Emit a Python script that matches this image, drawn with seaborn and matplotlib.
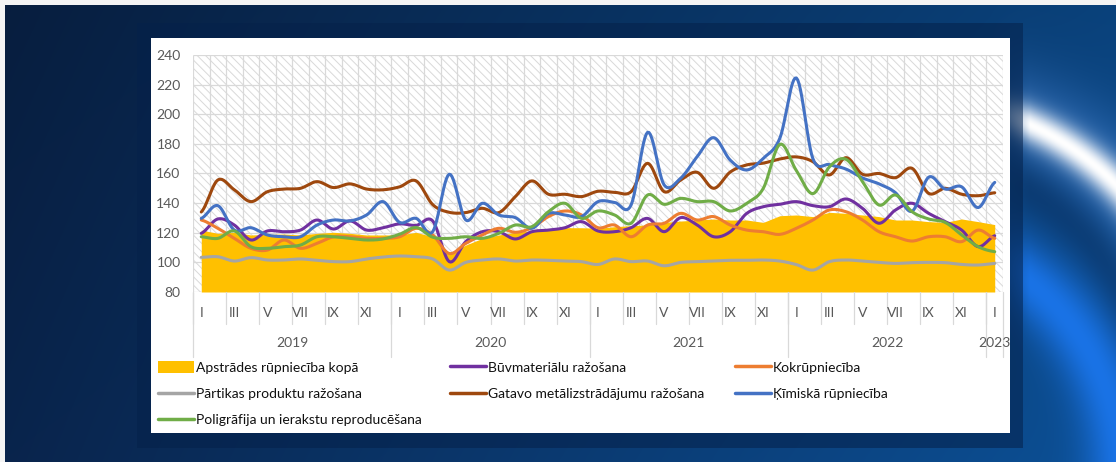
import numpy as np
import pandas as pd
import matplotlib
matplotlib.use("Agg")
import matplotlib.pyplot as plt
import seaborn as sns
from matplotlib.patches import Rectangle, Patch
from matplotlib.lines import Line2D

# ─── Data (monthly indices, Jan 2019 .. Jan 2023) ──────────────────────────────
YEARS = ["2019", "2020", "2021", "2022", "2023"]
MONTH_LABELS = ["I", "III", "V", "VII", "IX", "XI"]

total = [121.8, 119.6, 120.3, 118.5, 118.9, 119.1, 118.5, 119.6, 120.3, 119.6, 118.5, 118.5,
         118.5, 120.3, 117.3, 106.1, 111.7, 116.2, 118.5, 120.3, 121.2, 121.8, 123.4, 123.4,
         123.0, 124.1, 124.8, 125.2, 127.0, 127.9, 128.6, 129.3, 128.6, 128.6, 127.0, 131.5,
         132.0, 130.9, 133.8, 133.1, 132.0, 130.9, 128.6, 128.6, 127.5, 127.0, 129.3, 127.5,
         125.5]
buvmat = [119.6, 129.3, 125.2, 115.1, 121.2, 120.7, 121.8, 128.6, 122.5, 128.0, 121.8, 123.4,
          126.0, 125.0, 128.0, 100.5, 114.0, 120.7, 120.7, 115.8, 120.7, 121.8, 123.4, 127.5,
          121.2, 120.7, 123.4, 129.7, 120.7, 130.2, 125.2, 117.3, 120.7, 133.1, 137.6, 139.2,
          141.0, 138.3, 137.6, 142.8, 136.5, 126.4, 135.4, 139.9, 133.1, 127.5, 121.8, 110.6,
          118.0]
kokr = [128.6, 123.0, 116.2, 109.5, 108.3, 115.1, 109.5, 112.8, 117.3, 117.3, 116.2, 116.2,
        117.3, 123.0, 118.5, 106.0, 112.8, 118.5, 123.0, 120.3, 123.4, 130.9, 134.7, 132.0,
        123.4, 125.2, 117.3, 125.2, 126.4, 133.1, 128.6, 130.9, 125.2, 121.8, 120.7, 118.9,
        123.0, 128.6, 135.4, 134.2, 128.6, 120.7, 117.3, 114.4, 117.3, 117.3, 114.0, 121.8,
        116.2]
partika = [103.4, 103.8, 100.9, 103.2, 101.6, 101.6, 102.3, 101.4, 100.5, 100.5, 102.3, 103.6,
           104.3, 103.8, 102.3, 94.8, 100.0, 101.6, 102.3, 100.9, 101.6, 101.4, 100.9, 100.5,
           98.6, 102.3, 100.5, 100.9, 97.7, 100.0, 100.5, 100.9, 101.4, 101.4, 101.6, 100.9,
           98.5, 94.8, 100.5, 101.6, 100.9, 100.0, 99.3, 99.8, 100.0, 99.8, 98.6, 98.2,
           99.3]
metal = [134.0, 155.6, 149.0, 141.0, 147.7, 149.5, 150.0, 154.5, 150.5, 153.0, 149.5, 149.0,
         151.0, 155.0, 139.0, 133.8, 133.6, 136.5, 133.6, 144.4, 155.0, 146.0, 146.0, 144.4,
         148.0, 147.3, 147.7, 166.9, 147.7, 155.6, 160.8, 150.0, 161.0, 165.8, 167.0, 169.8,
         171.2, 168.0, 159.0, 170.7, 159.5, 160.0, 157.2, 163.5, 146.6, 150.0, 146.0, 145.0,
         147.0]
kimija = [129.7, 138.3, 121.8, 123.4, 118.5, 117.3, 117.3, 125.2, 128.6, 128.0, 132.0, 141.0,
          127.0, 129.7, 120.7, 159.5, 128.6, 139.9, 132.0, 130.2, 123.0, 133.0, 132.0, 130.9,
          141.0, 140.5, 138.7, 187.8, 152.3, 156.8, 171.4, 184.2, 169.0, 162.4, 170.3, 183.8,
          224.5, 170.0, 166.0, 163.0, 157.0, 153.0, 147.0, 134.5, 157.5, 149.5, 151.0, 137.0,
          154.0]
poligr = [117.3, 116.2, 121.2, 110.6, 109.5, 110.6, 111.7, 117.3, 117.3, 116.2, 115.1, 115.8,
          119.0, 123.5, 117.0, 116.2, 117.3, 116.2, 119.6, 125.2, 124.1, 134.2, 139.9, 129.7,
          134.7, 132.0, 126.4, 145.5, 139.2, 143.2, 141.0, 141.0, 134.7, 139.9, 150.0, 179.7,
          162.0, 146.4, 164.5, 169.6, 154.5, 138.7, 145.5, 134.2, 129.3, 127.0, 118.5, 110.6,
          107.2]

SERIES = {
    "Būvmateriālu ražošana": (buvmat, "#7030A0"),
    "Kokrūpniecība": (kokr, "#ED7D31"),
    "Pārtikas produktu ražošana": (partika, "#A5A5A5"),
    "Gatavo metālizstrādājumu ražošana": (metal, "#9E480E"),
    "Ķīmiskā rūpniecība": (kimija, "#4472C4"),
    "Poligrāfija un ierakstu reproducēšana": (poligr, "#70AD47"),
}
TOTAL_NAME = "Apstrādes rūpniecība kopā"
TOTAL_COLOR = "#FFC000"

TEXT = "#595959"
GRID = "#d9d9d9"
W, H = 1116, 462


def smooth(values, n=12):
    """Excel-style smoothed line: cubic Bezier through the monthly points."""
    y = np.asarray(values, float)
    yp = np.concatenate([[y[0]], y, [y[-1]]])
    t = np.linspace(0, 1, n, endpoint=False)
    xs, ys = [], []
    for i in range(len(y) - 1):
        p0, p3 = y[i], y[i + 1]
        p1 = p0 + (yp[i + 2] - yp[i]) / 6
        p2 = p3 - (yp[i + 3] - yp[i + 1]) / 6
        ys.append((1 - t) ** 3 * p0 + 3 * (1 - t) ** 2 * t * p1 + 3 * (1 - t) * t ** 2 * p2 + t ** 3 * p3)
        xs.append(i + t)
    xs.append([len(y) - 1])
    ys.append([y[-1]])
    return np.concatenate(xs), np.concatenate(ys)


def background():
    yy, xx = np.mgrid[0:H, 0:W].astype(float)
    t = xx / W
    c0 = np.array([9, 36, 76]) / 255
    c1 = np.array([12, 80, 150]) / 255
    img = c0 * (1 - t)[..., None] + c1 * t[..., None]
    img *= (0.82 + 0.18 * yy / H)[..., None]
    right = np.clip((xx - 990) / 40, 0, 1)
    # bright white swoosh on the right
    r1 = np.hypot(xx - 905, yy - 395)
    glow = np.exp(-((r1 - 298) / 50) ** 2) * 0.4 * right
    core = np.exp(-((r1 - 298) / 17) ** 2) * right
    dark = np.exp(-((r1 - 240) / 25) ** 2) * 0.5 * right
    img = img + (np.array([0.35, 0.6, 0.95]) - img) * glow[..., None]
    img = img + (1 - img) * core[..., None]
    img = img + (np.array([0.02, 0.17, 0.36]) - img) * dark[..., None]
    # lower light-blue band
    r2 = np.hypot(xx - 880, yy - 470)
    band = np.exp(-((r2 - 240) / 34) ** 2) * right
    img = img + (np.array([0.1, 0.45, 0.9]) - img) * band[..., None]
    img = np.clip(img, 0, 1)
    img[:5, :] = 0.96
    img[:, :5] = 0.96
    return img


sns.set_theme(style="white")
plt.rcParams["font.family"] = ["Lato", "DejaVu Sans"]
plt.rcParams["hatch.linewidth"] = 0.7

fig = plt.figure(figsize=(W / 100, H / 100), dpi=100)

bg = fig.add_axes([0, 0, 1, 1], zorder=-10)
bg.imshow(background(), aspect="auto", extent=(0, W, H, 0))
bg.set_xlim(0, W)
bg.set_ylim(H, 0)
bg.axis("off")
bg.add_patch(Rectangle((137, 23), 886, 425, facecolor="#05214a", alpha=0.55, lw=0))
bg.add_patch(Rectangle((151, 38), 859, 395, facecolor="white", lw=0))

# ─── Chart ────────────────────────────────────────────────────────────────────
ax = fig.add_axes([193 / W, 1 - 292 / H, 810 / W, 237 / H])
ax.set_facecolor("white")
ax.add_patch(Rectangle((0, 0), 1, 1, transform=ax.transAxes, facecolor="white",
                       edgecolor=GRID, hatch="\\\\\\\\", lw=0, zorder=0))

months = np.arange(len(total))
ax.vlines(np.arange(-0.5, len(total) + 0.5, 1), 80, 240, color=GRID, lw=0.9, zorder=1)
ax.hlines(np.arange(80, 241, 20), -0.5, len(total) - 0.5, color=GRID, lw=0.9, zorder=1)

ax.fill_between(months, 80, total, color=TOTAL_COLOR, lw=0, zorder=2)

rows = []
for name, (vals, _) in SERIES.items():
    sx, sy = smooth(vals)
    rows.append(pd.DataFrame({"x": sx, "v": sy, "series": name}))
long = pd.concat(rows, ignore_index=True)
palette = {k: c for k, (_, c) in SERIES.items()}
sns.lineplot(data=long, x="x", y="v", hue="series", hue_order=list(SERIES), palette=palette,
             estimator=None, sort=False, lw=2.2, legend=False, ax=ax, zorder=3,
             solid_capstyle="round")

ax.set_xlim(-0.5, len(total) - 0.5)
ax.set_ylim(80, 240)
ax.set_yticks(np.arange(80, 241, 20))
ax.set_xticks([])
ax.set_xlabel("")
ax.set_ylabel("")
ax.tick_params(axis="y", length=0, pad=9, labelsize=10, labelcolor=TEXT)
for s in ax.spines.values():
    s.set_visible(False)

# two-level category axis: months + years
xt = ax.get_xaxis_transform()
ah = 237.0
for k in range(len(total)):
    if k % 2 == 0:
        ax.text(k, -21 / ah, MONTH_LABELS[(k % 12) // 2], transform=xt, ha="center",
                va="center", fontsize=10, color=TEXT)
for b in np.arange(-0.5, len(total), 2):
    ax.plot([b, b], [0, -32 / ah], transform=xt, color=GRID, lw=0.9, clip_on=False)
for j, yr in enumerate(YEARS):
    b = -0.5 + 12 * j
    ax.plot([b, b], [0, -65 / ah], transform=xt, color=GRID, lw=0.9, clip_on=False)
    centre = min(5.5 + 12 * j, len(total) - 1)
    ax.text(centre, -51 / ah, yr, transform=xt, ha="center", va="center",
            fontsize=10, color=TEXT)
ax.plot([len(total) - 0.5] * 2, [0, -65 / ah], transform=xt, color=GRID, lw=0.9, clip_on=False)

# ─── Legend (three columns, row-major like the original) ──────────────────────
names = list(SERIES)
cols = [
    [Patch(facecolor=TOTAL_COLOR, lw=0, label=TOTAL_NAME),
     Line2D([], [], color=SERIES[names[2]][1], lw=2.5, label=names[2]),
     Line2D([], [], color=SERIES[names[5]][1], lw=2.5, label=names[5])],
    [Line2D([], [], color=SERIES[names[0]][1], lw=2.5, label=names[0]),
     Line2D([], [], color=SERIES[names[3]][1], lw=2.5, label=names[3])],
    [Line2D([], [], color=SERIES[names[1]][1], lw=2.5, label=names[1]),
     Line2D([], [], color=SERIES[names[4]][1], lw=2.5, label=names[4])],
]
for handles, x0 in zip(cols, [158, 450, 735]):
    fig.legend(handles=handles, loc="upper left", bbox_to_anchor=(x0 / W, 1 - 361 / H),
               frameon=False, fontsize=10, handlelength=2.6, handleheight=0.9,
               handletextpad=0.15, labelspacing=1.0, borderpad=0, borderaxespad=0,
               labelcolor="#111111")

fig.savefig("out.png", dpi=100)
